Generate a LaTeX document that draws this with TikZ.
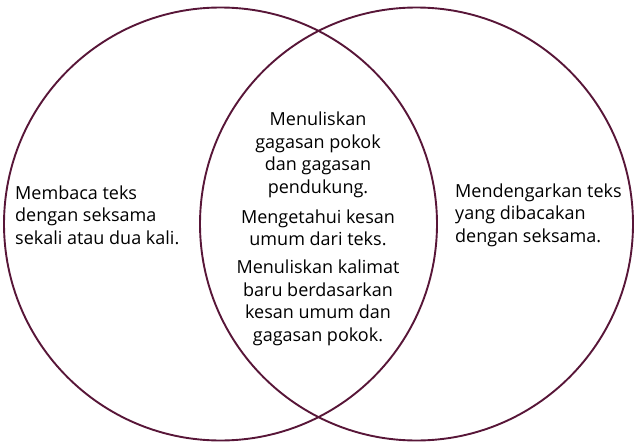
\documentclass[tikz,border=0pt]{standalone}
\usepackage{fontspec}
\setmainfont{Open Sans}
\definecolor{maroon}{RGB}{88,22,56}
\begin{document}
\begin{tikzpicture}[x=1pt,y=-1pt]
  \tikzset{ ring/.style={circle,draw=maroon,line width=1.9pt,minimum size=433pt,inner sep=0pt},
    t/.style={font=\fontsize{18}{22.5}\selectfont,inner sep=0pt,text=black},
  }
  \useasboundingbox (0,0) rectangle (640,447);
  \node[ring] (A) at (220.5,224) {};
  \node[ring] (B) at (416.5,224) {};

  % the texts in the three parts
  \node[t,anchor=west,align=left] (L) at (15,215) {Membaca teks\\dengan seksama\\sekali atau dua kali.};
  \node[t,anchor=west,align=left] (R) at (455,215) {Mendengarkan teks\\yang dibacakan\\dengan seksama.};
  \node[t,align=center] (C1) at (318,155) {Menuliskan\\gagasan pokok\\dan gagasan\\pendukung.};
  \node[t,align=center] (C2) at (318,228) {Mengetahui kesan\\umum dari teks.};
  \node[t,align=center] (C3) at (318,303) {Menuliskan kalimat\\baru berdasarkan\\kesan umum dan\\gagasan pokok.};
\end{tikzpicture}
\end{document}
